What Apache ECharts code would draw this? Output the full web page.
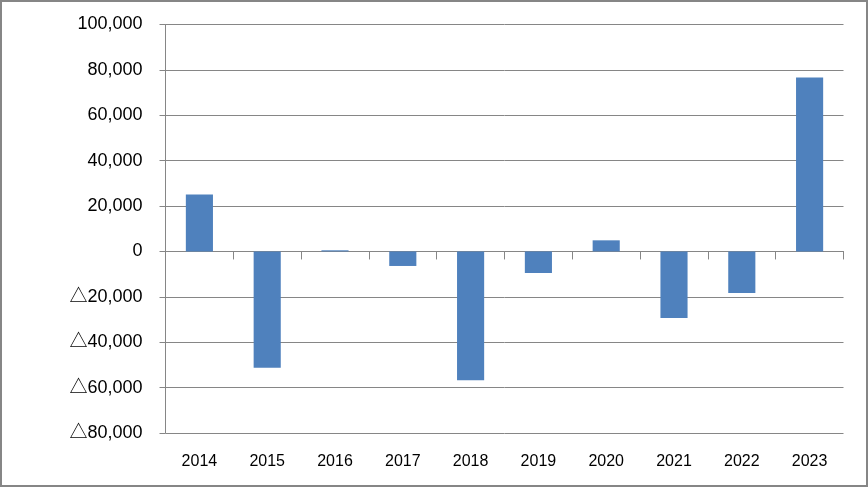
<!DOCTYPE html>
<html>
<head>
<meta charset="utf-8">
<script src="https://cdn.jsdelivr.net/npm/echarts@6/dist/echarts.min.js"></script>
<style>
html,body{margin:0;padding:0;background:#fff;}
#chart{width:868px;height:487px;}
</style>
</head>
<body>
<div id="chart"></div>
<script>
var categories = ['2014','2015','2016','2017','2018','2019','2020','2021','2022','2023'];
var values = [25100, -51300, 500, -6400, -56800, -9500, 4900, -29300, -18300, 76600];
var yTickValues = [-80000, -60000, -40000, -20000, 0, 20000, 40000, 60000, 80000, 100000];

function fmt(v){
  var s = Math.abs(v).toString().replace(/\B(?=(\d{3})+(?!\d))/g, ',');
  return v < 0 ? '\u25B3' + s : s;
}

var chart = echarts.init(document.getElementById('chart'), null, {renderer:'canvas'});
var gray = '#868686';
chart.setOption({
  animation: false,
  backgroundColor: '#fff',
  grid: {left: 165.5, right: 24.5, top: 24.5, bottom: 54, containLabel: false},
  graphic: [{
    type: 'rect', silent: true, z: 100,
    shape: {x: 1, y: 1, width: 866, height: 485},
    style: {fill: 'none', stroke: gray, lineWidth: 2}
  }],
  xAxis: [{
    type: 'category', data: categories, position: 'bottom',
    axisLine: {show: false, onZero: false},
    axisTick: {show: false},
    axisLabel: {color: '#000', fontSize: 16, fontFamily: '"Liberation Sans", sans-serif', margin: 21},
    splitLine: {show: false}
  }, {
    type: 'category', data: categories, position: 'bottom',
    axisLine: {show: true, onZero: true, lineStyle: {color: gray, width: 1}},
    axisTick: {show: true, length: 8, lineStyle: {color: gray}},
    axisLabel: {show: false},
    splitLine: {show: false}
  }],
  yAxis: {
    type: 'value', min: yTickValues[0], max: yTickValues[yTickValues.length-1], interval: 20000,
    axisLine: {show: true, lineStyle: {color: gray, width: 1}},
    axisTick: {show: true, length: 6, lineStyle: {color: gray}},
    splitLine: {show: true, lineStyle: {color: gray, width: 1}},
    axisLabel: {color: '#000', fontSize: 18, fontFamily: '"Liberation Sans", "Noto Sans CJK JP", sans-serif', margin: 23, formatter: fmt}
  },
  series: [{
    type: 'bar', data: values, xAxisIndex: 0, barWidth: '40%',
    itemStyle: {color: '#4F81BD'}
  }]
});
</script>
</body>
</html>
